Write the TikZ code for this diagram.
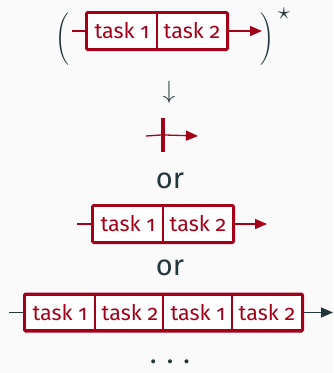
\documentclass[tikz,border=0pt]{standalone}
\usepackage{fontspec}
\usepackage{graphicx}
\setmainfont{Fira Sans}[Numbers=OldStyle]
\usetikzlibrary{arrows.meta,fit,positioning}
\definecolor{tred}{HTML}{A3001A}
\definecolor{tdark}{HTML}{23373B}
\definecolor{tbg}{HTML}{FAFAFA}
\tikzset{
  cell/.style={draw=tred,line width=2.8pt,fill=white,text=tred,minimum width=70pt,minimum height=36pt,inner sep=0pt,font=\fontsize{21.5}{24}\selectfont},
  outerbox/.style={draw=tred,line width=2.4pt,rounded corners=1.5pt,inner sep=-0.6pt},
  redflow/.style={draw=tred,line width=1.3pt,-{Triangle[length=12pt,width=10pt]}},
  redstart/.style={draw=tred,line width=1.3pt},
  darkflow/.style={draw=tdark,line width=1.3pt,-{Triangle[length=12pt,width=10pt]}},
  darkstart/.style={draw=tdark,line width=1.3pt},
  word/.style={text=tdark,font=\fontsize{29}{32}\selectfont,inner sep=0pt},
  sym/.style={text=tdark,inner sep=0pt},
}
\newcommand{\bigparen}[1]{\scalebox{1.75}{$\nulldelimiterspace=0pt\left#1\vcenter{\hbox{\vrule height 14pt depth 14pt width 0pt}}\right.$}}
\begin{document}
\begin{tikzpicture}[x=1pt,y=-1pt]
\fill[tbg] (0,0) rectangle (333,373);
\useasboundingbox (0,0) rectangle (333,373);
% row 1
\node[cell] (a1) at (122,31) {task 1};
\node[cell] (a2) at (192,31) {task 2};
\node[outerbox,fit=(a1)(a2)] (A) {};
\coordinate (as) at (72,31);
\coordinate (ae) at (262,31);
\draw[redstart] (as) -- (A.west);
\draw[redflow] (A.east) -- (ae);
\node[sym] (lp) at (62,39) {\bigparen(};
\node[sym] (rp) at (267,39) {\bigparen)};
\node[sym,font=\fontsize{26}{28}\selectfont] (st) at (284,14) {$\star$};
% down arrow
\node[sym,font=\fontsize{28}{30}\selectfont] (down) at (169,92) {$\downarrow$};
% row 2
\node[fill=tred,minimum width=4pt,minimum height=34pt,inner sep=0pt] (bar) at (163,135) {};
\coordinate (bs) at (146,136);
\coordinate (be) at (198,136);
\draw[redstart] (bs) -- (bar.west);
\draw[redflow] (bar.east) -- (be);
\node[word] (or1) at (170,181) {or};
% row 3
\node[cell] (c1) at (128,224) {task 1};
\node[cell] (c2) at (198,224) {task 2};
\node[outerbox,fit=(c1)(c2)] (C) {};
\coordinate (cs) at (77,224);
\coordinate (ce) at (267,224);
\draw[redstart] (cs) -- (C.west);
\draw[redflow] (C.east) -- (ce);
\node[word] (or2) at (170,268) {or};
% row 4
\node[cell] (d1) at (60,312.5) {task 1};
\node[cell] (d2) at (130,312.5) {task 2};
\node[cell] (d3) at (198,312.5) {task 1};
\node[cell] (d4) at (267,312.5) {task 2};
\node[outerbox,fit=(d1)(d4)] (D) {};
\coordinate (ds) at (9,312.5);
\coordinate (de) at (333,312.5);
\draw[darkstart] (ds) -- (D.west);
\draw[darkflow] (D.east) -- (de);
% dots
\node[word] (dots) at (170,362) {.\,\,.\,\,.};
\end{tikzpicture}
\end{document}
